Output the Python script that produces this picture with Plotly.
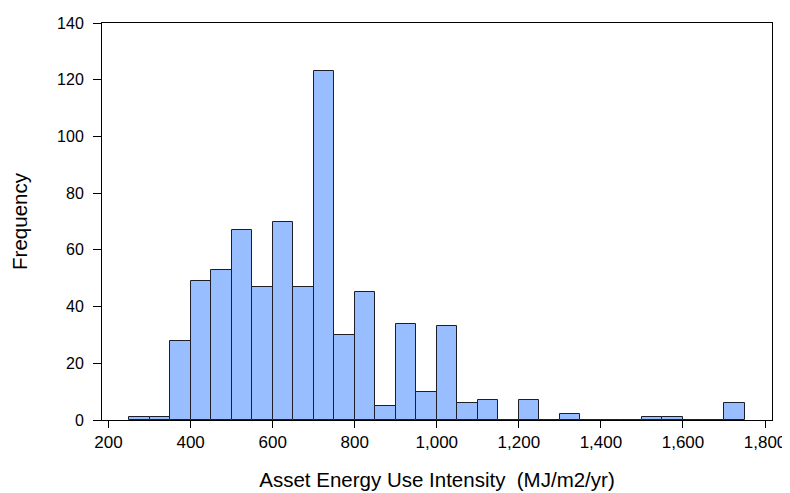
import plotly.graph_objects as go

bin_starts = [250, 300, 350, 400, 450, 500, 550, 600, 650, 700, 750, 800, 850, 900, 950,
              1000, 1050, 1100, 1150, 1200, 1250, 1300, 1350, 1400, 1450, 1500, 1550,
              1600, 1650, 1700]
counts = [1, 1, 28, 49, 53, 67, 47, 70, 47, 123, 30, 45, 5, 34, 10,
          33, 6, 7, 0, 7, 0, 2, 0, 0, 0, 1, 1, 0, 0, 6]
bin_width = 50
x_ticks = [200, 400, 600, 800, 1000, 1200, 1400, 1600, 1800]
x_tick_labels = ["200", "400", "600", "800", "1,000", "1,200", "1,400", "1,600", "1,800"]
y_ticks = [0, 20, 40, 60, 80, 100, 120, 140]

centers = [s + bin_width / 2 for s in bin_starts]

fig = go.Figure(go.Bar(
    x=centers, y=counts, width=[bin_width] * len(counts),
    marker=dict(color="rgb(152,190,255)", line=dict(color="rgb(30,30,40)", width=1)),
))

font_family = "Liberation Sans, Arial, sans-serif"
fig.update_layout(
    width=790, height=493,
    margin=dict(l=94, r=26, t=15, b=81),
    paper_bgcolor="white", plot_bgcolor="white",
    font=dict(family=font_family, color="black", size=16),
    showlegend=False,
    bargap=0,
)
fig.update_xaxes(
    range=[184, 1817], tickvals=x_ticks, ticktext=x_tick_labels,
    ticks="outside", ticklen=7, tickcolor="black", tickwidth=1,
    showline=True, linecolor="black", linewidth=1, mirror=True,
    showgrid=False, zeroline=False, automargin=False,
    tickfont=dict(size=17),
    title=dict(text="Asset Energy Use Intensity  (MJ/m2/yr)", font=dict(size=20.5), standoff=21),
)
fig.update_yaxes(
    range=[0, 140], tickvals=y_ticks,
    ticks="outside", ticklen=8, tickcolor="black", tickwidth=1,
    showline=True, linecolor="black", linewidth=1, mirror=True,
    showgrid=False, zeroline=False, automargin=False,
    tickfont=dict(size=16), ticklabelstandoff=6,
    title=dict(text="Frequency", font=dict(size=20.5), standoff=25),
)

fig.write_html("out.html")
